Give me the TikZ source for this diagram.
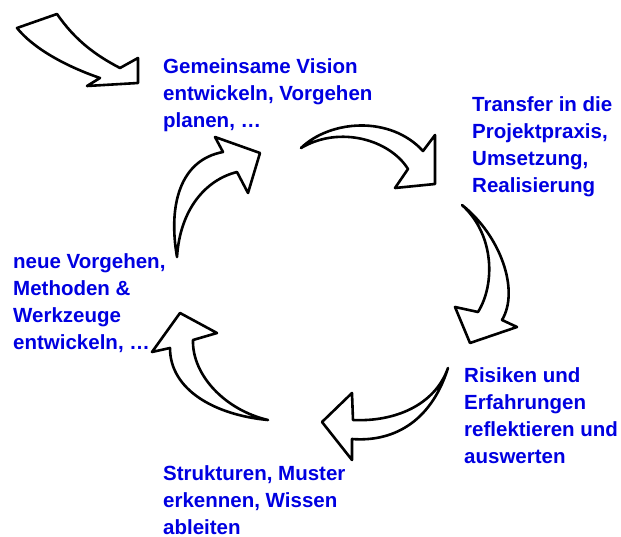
\documentclass[tikz,border=0pt]{standalone}
\usepackage{fontspec}
\setmainfont{Liberation Sans}
\definecolor{txtblue}{RGB}{0,0,225}
\begin{document}
\begin{tikzpicture}[x=1pt,y=-1pt,
  blockarrow/.style={draw=black,fill=white,line width=2.6pt,line join=round},
  label/.style={anchor=base west,inner sep=0pt,align=left,text=txtblue,
    font=\bfseries\fontsize{20.5}{27}\selectfont}]
\useasboundingbox (0,0) rectangle (621,537);
% labels (anchor = baseline of last line)
\node[label] (vision) at (163,128) {Gemeinsame Vision\\entwickeln, Vorgehen\\planen, …};
\node[label] (transfer) at (472,193) {Transfer in die\\Projektpraxis,\\Umsetzung,\\Realisierung};
\node[label] (risiken) at (464,463) {Risiken und\\Erfahrungen\\reflektieren und\\auswerten};
\node[label] (strukturen) at (163,534) {Strukturen, Muster\\erkennen, Wissen\\ableiten};
\node[label] (neue) at (13,349) {neue Vorgehen,\\Methoden \&\\Werkzeuge\\entwickeln, …};
% entry arrow
\draw[blockarrow] (17,28) -- (57,14) .. controls (75,40) and (95,55) .. (120,68)
  -- (138,58) -- (138,83) -- (87,86) -- (100,78)
  .. controls (65,66) and (33,48) .. (17,28) -- cycle;
% vision -> transfer
\draw[blockarrow] (301,148) .. controls (330,120) and (390,115) .. (423,151)
  -- (435,135) -- (435,184) -- (395,188) -- (408,169)
  .. controls (390,140) and (340,125) .. (301,148) -- cycle;
% transfer -> risiken
\draw[blockarrow] (462,205) .. controls (500,235) and (520,290) .. (502,320)
  -- (517,327) -- (470,343) -- (455,307) -- (478,312)
  .. controls (495,285) and (495,235) .. (462,205) -- cycle;
% risiken -> strukturen
\draw[blockarrow] (448,368) .. controls (435,405) and (395,422) .. (353,420)
  -- (352,393) -- (322,422) -- (352,460) -- (352,439)
  .. controls (390,442) and (430,425) .. (448,368) -- cycle;
% strukturen -> neue
\draw[blockarrow] (268,420) .. controls (215,415) and (170,390) .. (170,348)
  -- (152,352) -- (180,313) -- (217,333) -- (193,340)
  .. controls (192,375) and (225,410) .. (268,420) -- cycle;
% neue -> vision
\draw[blockarrow] (177,257) .. controls (168,205) and (180,160) .. (223,152)
  -- (215,137) -- (260,153) -- (248,193) -- (237,172)
  .. controls (205,180) and (180,210) .. (177,257) -- cycle;
\end{tikzpicture}
\end{document}
